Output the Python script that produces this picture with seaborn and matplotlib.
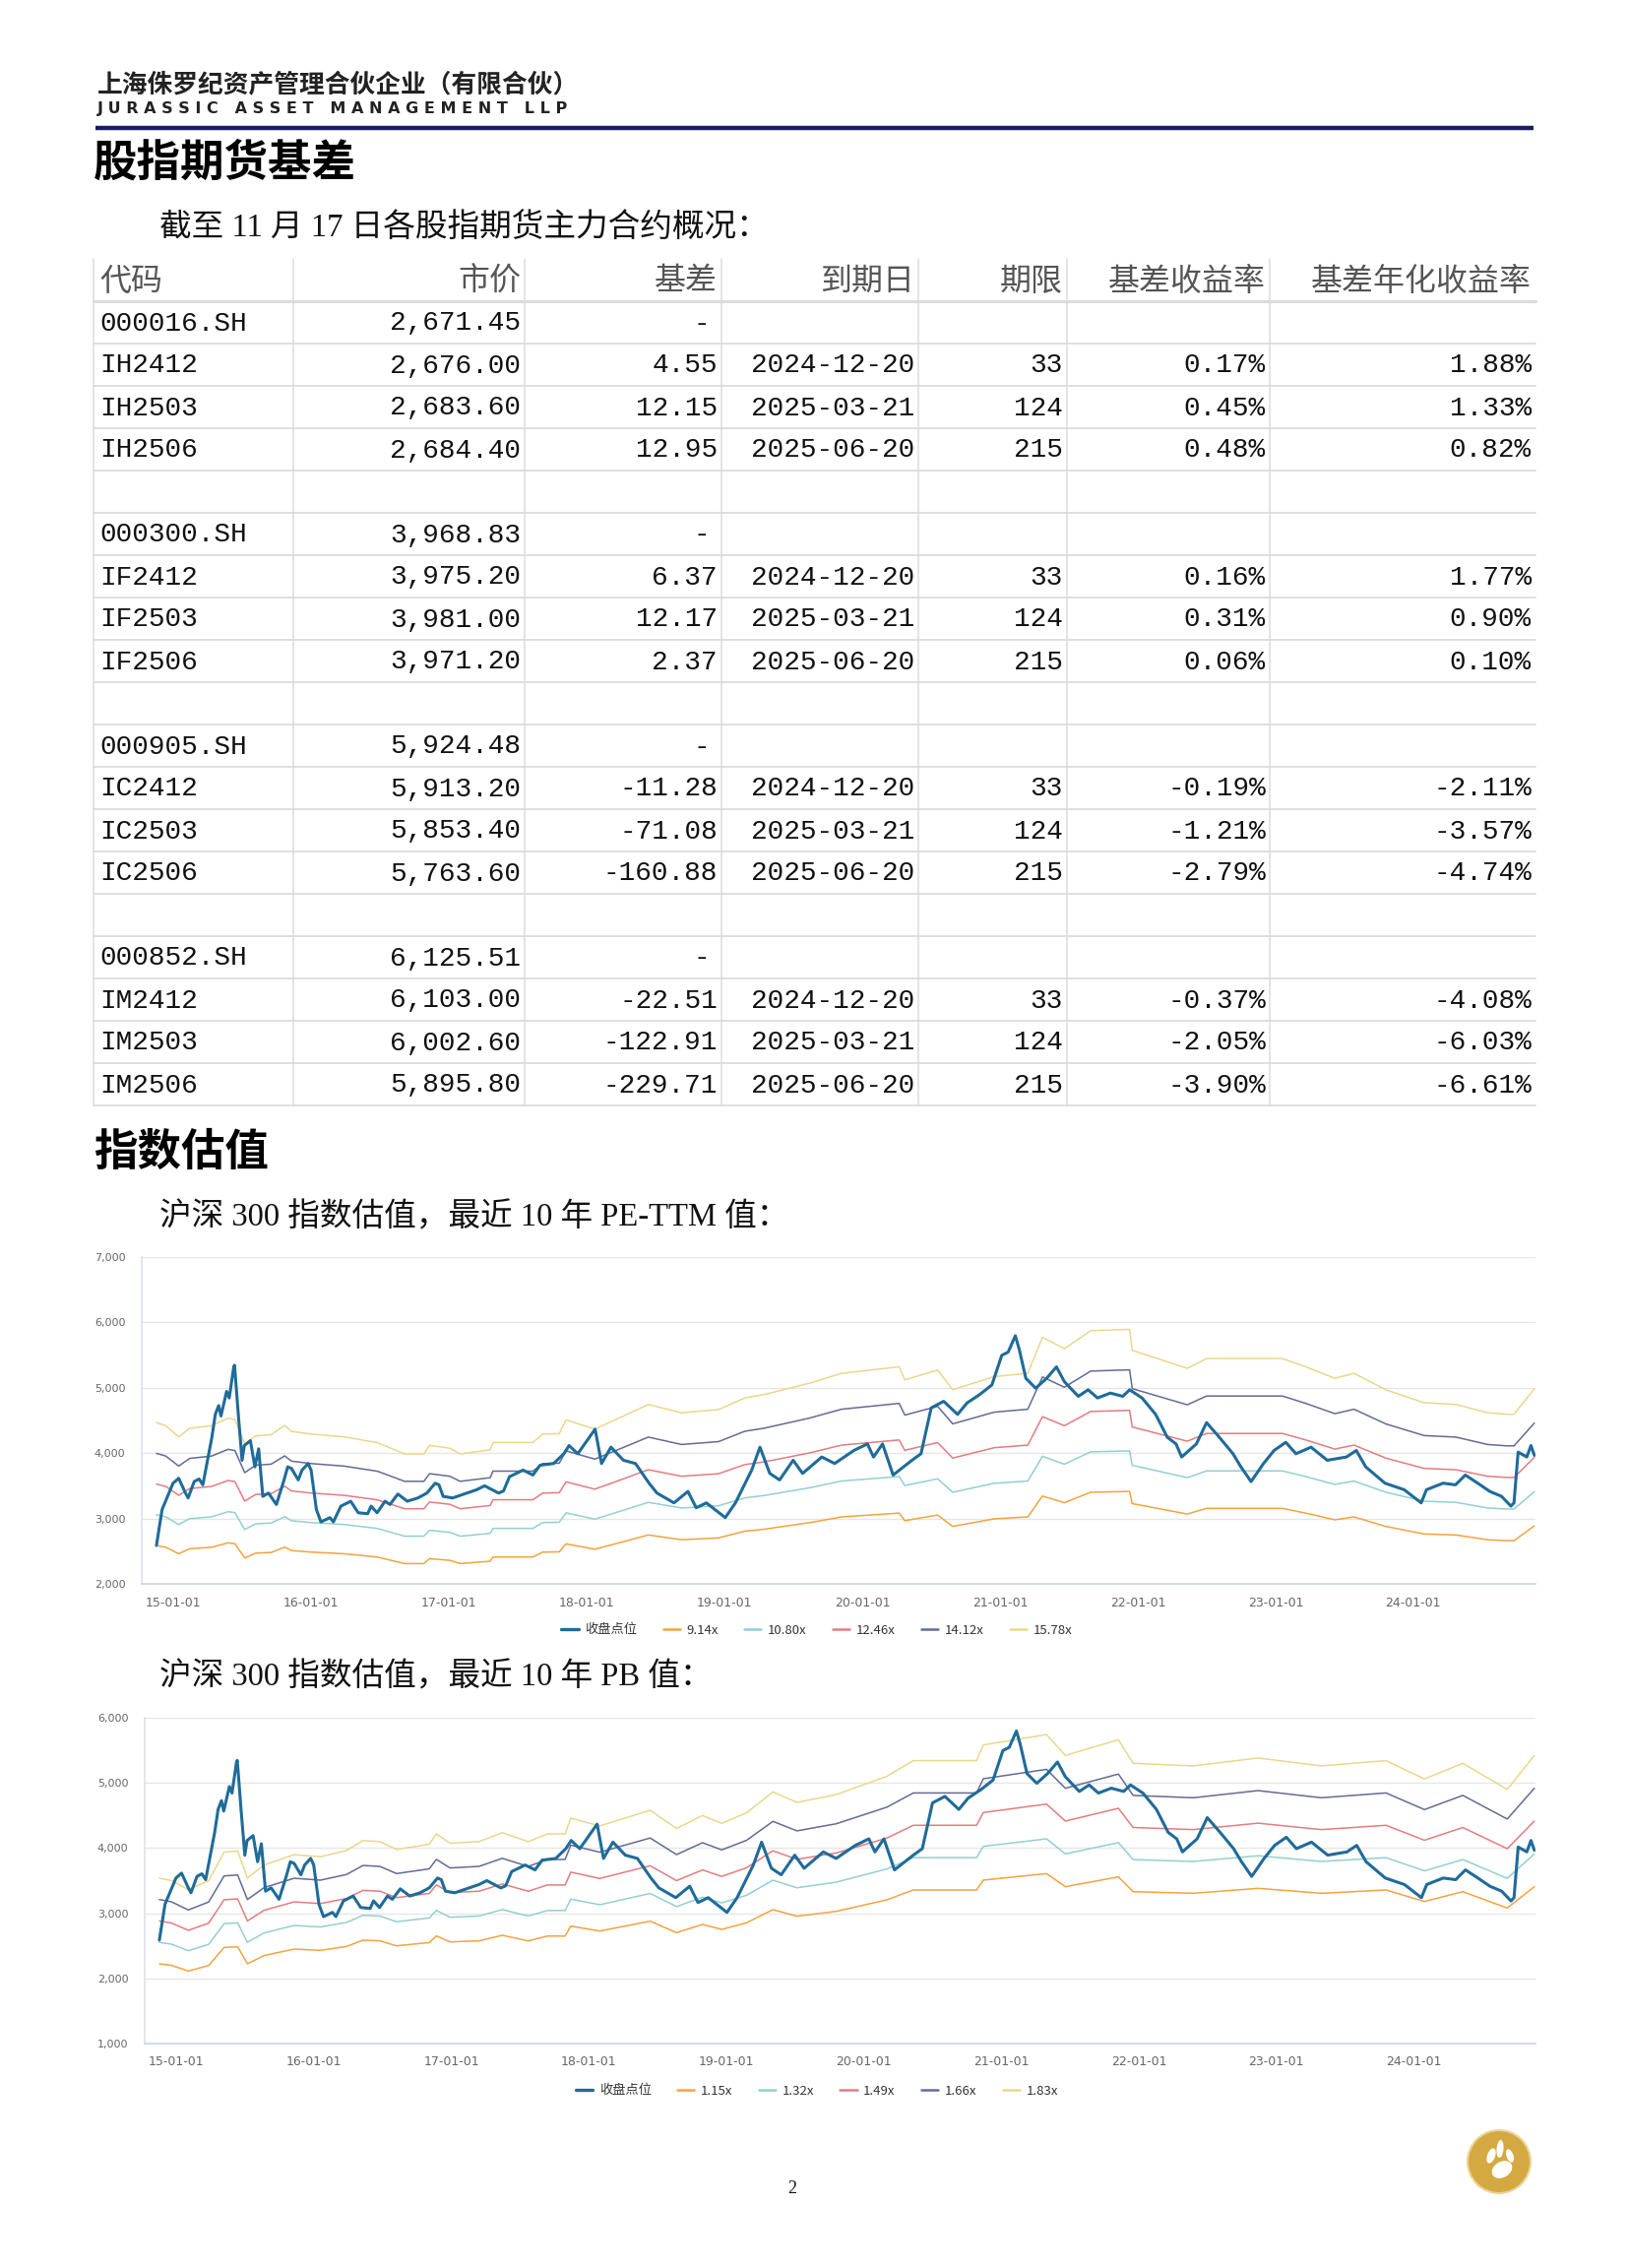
"""股指期货基差 + 沪深300估值页面"""
import numpy as np
import pandas as pd
import matplotlib
matplotlib.use("Agg")
import matplotlib.pyplot as plt
import matplotlib.dates as mdates
from matplotlib.lines import Line2D
from matplotlib.patches import Circle, Ellipse
import seaborn as sns

W, H = 1654, 2304

# ---- 表格数据 ----
table_header = ["代码", "市价", "基差", "到期日", "期限", "基差收益率", "基差年化收益率"]
codes = ["000016.SH", "IH2412", "IH2503", "IH2506", "",
         "000300.SH", "IF2412", "IF2503", "IF2506", "",
         "000905.SH", "IC2412", "IC2503", "IC2506", "",
         "000852.SH", "IM2412", "IM2503", "IM2506"]
prices = ["2,671.45", "2,676.00", "2,683.60", "2,684.40", "",
          "3,968.83", "3,975.20", "3,981.00", "3,971.20", "",
          "5,924.48", "5,913.20", "5,853.40", "5,763.60", "",
          "6,125.51", "6,103.00", "6,002.60", "5,895.80"]
basis = ["-", "4.55", "12.15", "12.95", "",
         "-", "6.37", "12.17", "2.37", "",
         "-", "-11.28", "-71.08", "-160.88", "",
         "-", "-22.51", "-122.91", "-229.71"]
expiry = ["", "2024-12-20", "2025-03-21", "2025-06-20", "",
          "", "2024-12-20", "2025-03-21", "2025-06-20", "",
          "", "2024-12-20", "2025-03-21", "2025-06-20", "",
          "", "2024-12-20", "2025-03-21", "2025-06-20"]
days = ["", "33", "124", "215", "",
        "", "33", "124", "215", "",
        "", "33", "124", "215", "",
        "", "33", "124", "215"]
basis_ret = ["", "0.17%", "0.45%", "0.48%", "",
             "", "0.16%", "0.31%", "0.06%", "",
             "", "-0.19%", "-1.21%", "-2.79%", "",
             "", "-0.37%", "-2.05%", "-3.90%"]
annual_ret = ["", "1.88%", "1.33%", "0.82%", "",
              "", "1.77%", "0.90%", "0.10%", "",
              "", "-2.11%", "-3.57%", "-4.74%", "",
              "", "-4.08%", "-6.03%", "-6.61%"]

# ---- 沪深300 收盘点位 ----
close_dates = [
    "2014-11-17", "2014-12-02", "2014-12-31", "2015-01-15", "2015-02-02", "2015-02-09",
    "2015-02-25", "2015-03-10", "2015-03-20", "2015-04-13", "2015-04-22", "2015-05-01",
    "2015-05-07", "2015-05-22", "2015-05-29", "2015-06-10", "2015-06-12", "2015-06-22",
    "2015-07-02", "2015-07-08", "2015-07-24", "2015-08-05", "2015-08-15", "2015-08-26",
    "2015-09-10", "2015-10-01", "2015-10-20", "2015-10-31", "2015-11-10", "2015-11-28",
    "2015-12-08", "2015-12-24", "2016-01-01", "2016-01-15", "2016-01-27", "2016-02-20",
    "2016-02-29", "2016-03-20", "2016-04-15", "2016-05-05", "2016-05-30", "2016-06-08",
    "2016-06-24", "2016-07-15", "2016-07-28", "2016-08-18", "2016-09-12", "2016-10-10",
    "2016-11-03", "2016-11-25", "2016-12-05", "2016-12-16", "2017-01-10", "2017-03-15",
    "2017-04-05", "2017-05-12", "2017-05-25", "2017-06-10", "2017-07-16", "2017-08-11",
    "2017-08-30", "2017-10-05", "2017-11-01", "2017-11-15", "2017-12-08", "2018-01-23",
    "2018-02-09", "2018-03-06", "2018-04-08", "2018-05-10", "2018-06-15", "2018-07-06",
    "2018-08-20", "2018-09-26", "2018-10-18", "2018-11-14", "2019-01-03", "2019-01-30",
    "2019-03-14", "2019-04-05", "2019-05-01", "2019-05-27", "2019-07-02", "2019-07-27",
    "2019-09-16", "2019-10-20", "2019-12-10", "2020-01-15", "2020-01-31", "2020-02-24",
    "2020-03-23", "2020-05-12", "2020-06-05", "2020-07-02", "2020-08-04", "2020-09-10",
    "2020-10-05", "2020-11-07", "2020-12-10", "2021-01-05", "2021-01-22", "2021-02-10",
    "2021-02-20", "2021-03-10", "2021-04-05", "2021-05-04", "2021-05-30", "2021-06-20",
    "2021-07-27", "2021-08-22", "2021-09-16", "2021-10-20", "2021-11-22", "2021-12-10",
    "2022-01-12", "2022-02-17", "2022-03-20", "2022-04-12", "2022-04-27", "2022-06-05",
    "2022-07-02", "2022-08-05", "2022-09-10", "2022-10-01", "2022-10-28", "2022-11-30",
    "2022-12-28", "2023-01-28", "2023-02-24", "2023-04-05", "2023-05-18", "2023-07-08",
    "2023-08-03", "2023-08-28", "2023-10-18", "2023-12-08", "2024-01-22", "2024-02-05",
    "2024-03-20", "2024-04-22", "2024-05-18", "2024-06-20", "2024-07-22", "2024-08-22",
    "2024-09-16", "2024-09-24", "2024-10-05", "2024-10-28", "2024-11-08", "2024-11-17"]
close_values = [
    2587, 3138, 3540, 3615, 3389, 3314,
    3565, 3605, 3515, 4243, 4593, 4728,
    4568, 4944, 4844, 5320, 5345, 4593,
    3890, 4116, 4191, 3790, 4066, 3339,
    3389, 3214, 3565, 3790, 3765, 3590,
    3740, 3841, 3740, 3138, 2948, 3013,
    2948, 3189, 3264, 3088, 3073, 3189,
    3088, 3264, 3214, 3374, 3264, 3314,
    3389, 3540, 3515, 3339, 3314, 3440,
    3500, 3389, 3420, 3640, 3740, 3665,
    3815, 3841, 3991, 4116, 3991, 4367,
    3841, 4091, 3891, 3841, 3540, 3389,
    3239, 3414, 3164, 3239, 3013, 3239,
    3740, 4091, 3690, 3590, 3891, 3690,
    3941, 3841, 4041, 4141, 3941, 4141,
    3665, 3891, 3991, 4693, 4793, 4593,
    4768, 4894, 5044, 5496, 5546, 5796,
    5596, 5144, 4994, 5144, 5320, 5094,
    4869, 4969, 4844, 4919, 4869, 4969,
    4844, 4593, 4242, 4141, 3941, 4141,
    4467, 4242, 3991, 3790, 3565, 3841,
    4041, 4166, 3991, 4091, 3891, 3941,
    4041, 3790, 3540, 3440, 3239, 3440,
    3540, 3515, 3665, 3540, 3414, 3339,
    3189, 3239, 4016, 3941, 4116, 3966]

# ---- PE-TTM 9.14x 线（其余倍数线按同一盈利基数等比） ----
pe_mults = [9.14, 10.80, 12.46, 14.12, 15.78]
pe_labels = ["9.14x", "10.80x", "12.46x", "14.12x", "15.78x"]
pe_dates = [
    "2014-11-17", "2014-12-12", "2015-01-15", "2015-02-13", "2015-04-12", "2015-05-26",
    "2015-06-13", "2015-07-09", "2015-08-07", "2015-09-17", "2015-10-23", "2015-11-10",
    "2016-01-01", "2016-03-28", "2016-06-25", "2016-09-05", "2016-10-26", "2016-11-10",
    "2017-01-03", "2017-01-30", "2017-04-20", "2017-04-27", "2017-08-11", "2017-09-06",
    "2017-10-20", "2017-11-07", "2018-01-22", "2018-03-21", "2018-06-13", "2018-09-09",
    "2018-12-16", "2019-02-24", "2019-04-16", "2019-08-15", "2019-11-07", "2020-04-08",
    "2020-04-23", "2020-07-19", "2020-08-28", "2020-12-16", "2021-03-15", "2021-04-23",
    "2021-06-20", "2021-08-29", "2021-12-10", "2021-12-17", "2022-05-12", "2022-07-02",
    "2023-01-19", "2023-03-22", "2023-06-07", "2023-07-28", "2023-10-20", "2024-01-30",
    "2024-04-23", "2024-07-16", "2024-09-06", "2024-09-24", "2024-11-17"]
pe_914 = [
    2587, 2560, 2461, 2537, 2560, 2627,
    2615, 2396, 2470, 2480, 2562, 2510,
    2486, 2461, 2410, 2310, 2310, 2386,
    2360, 2310, 2346, 2411, 2411, 2486,
    2490, 2612, 2530, 2618, 2748, 2675,
    2703, 2806, 2836, 2937, 3024, 3082,
    2966, 3053, 2879, 2995, 3024, 3344,
    3242, 3402, 3414, 3228, 3068, 3155,
    3155, 3082, 2980, 3024, 2879, 2763,
    2748, 2675, 2661, 2661, 2887]

# ---- PB 1.15x 线 ----
pb_mults = [1.15, 1.32, 1.49, 1.66, 1.83]
pb_labels = ["1.15x", "1.32x", "1.49x", "1.66x", "1.83x"]
pb_dates = [
    "2014-11-17", "2014-12-19", "2015-02-02", "2015-03-28", "2015-05-08", "2015-06-13",
    "2015-07-09", "2015-08-22", "2015-11-10", "2016-01-19", "2016-03-28", "2016-05-11",
    "2016-06-25", "2016-08-08", "2016-11-03", "2016-11-22", "2016-12-28", "2017-03-15",
    "2017-05-16", "2017-07-24", "2017-09-13", "2017-10-30", "2017-11-14", "2018-01-30",
    "2018-06-13", "2018-08-22", "2018-10-30", "2018-12-20", "2019-02-24", "2019-05-05",
    "2019-07-08", "2019-10-20", "2020-03-03", "2020-05-12", "2020-10-27", "2020-11-14",
    "2021-05-01", "2021-06-20", "2021-11-08", "2021-12-17", "2022-05-26", "2022-11-14",
    "2023-05-01", "2023-10-20", "2024-01-30", "2024-05-11", "2024-09-06", "2024-11-17"]
pb_115 = [
    2224, 2200, 2113, 2198, 2475, 2485,
    2224, 2350, 2450, 2430, 2490, 2586,
    2576, 2500, 2550, 2651, 2560, 2576,
    2662, 2576, 2650, 2650, 2802, 2727,
    2878, 2702, 2828, 2752, 2853, 3055,
    2954, 3029, 3206, 3357, 3357, 3508,
    3608, 3407, 3558, 3331, 3306, 3382,
    3306, 3357, 3180, 3331, 3080, 3407]

close_label = "收盘点位"
close_color = "#1f6b99"
band_colors = ["#f4a340", "#93d0cf", "#e47c80", "#646b95", "#ecd68c"]


def px(x, y):
    return x / W, 1 - y / H


def draw_valuation(ax, base_dates, base_values, mults, labels, ylim):
    frames = []
    for m, lab in zip(mults, labels):
        frames.append(pd.DataFrame({"date": pd.to_datetime(base_dates),
                                    "value": np.array(base_values, float) * m / mults[0],
                                    "series": lab}))
    bands = pd.concat(frames, ignore_index=True)
    sns.lineplot(data=bands, x="date", y="value", hue="series", hue_order=labels,
                 palette=dict(zip(labels, band_colors)), estimator=None, linewidth=1.1,
                 legend=False, ax=ax)
    close_df = pd.DataFrame({"date": pd.to_datetime(close_dates), "value": close_values})
    sns.lineplot(data=close_df, x="date", y="value", color=close_color, linewidth=2.2,
                 estimator=None, ax=ax)

    ax.set_xlim(pd.Timestamp("2014-10-09"), pd.Timestamp("2024-11-20"))
    ax.set_ylim(*ylim)
    ax.set_yticks(np.arange(ylim[0], ylim[1] + 1, 1000))
    ax.yaxis.set_major_formatter(matplotlib.ticker.FuncFormatter(lambda v, p: f"{v:,.0f}"))
    ax.xaxis.set_major_locator(mdates.YearLocator())
    ax.xaxis.set_major_formatter(mdates.DateFormatter("%y-%m-%d"))
    ax.set_xlabel("")
    ax.set_ylabel("")
    ax.grid(axis="y", color="#e6e6e6", linewidth=1)
    ax.grid(axis="x", visible=False)
    for s in ["top", "right"]:
        ax.spines[s].set_visible(False)
    ax.spines["left"].set_color("#dfe3ea")
    ax.spines["bottom"].set_color("#ccd6eb")
    ax.spines["bottom"].set_linewidth(1.3)
    ax.tick_params(axis="x", length=6, color="#ccd6eb", labelsize=9, labelcolor="#666666", pad=3)
    ax.tick_params(axis="y", length=0, labelsize=8, labelcolor="#666666", pad=12)
    ax.set_facecolor("white")
    for t in ax.get_xticklabels() + ax.get_yticklabels():
        t.set_fontfamily("DejaVu Sans")


def add_legend(ax, labels, y):
    handles = [Line2D([0], [0], color=close_color, lw=2.4)]
    handles += [Line2D([0], [0], color=c, lw=1.8) for c in band_colors]
    leg = ax.legend(handles, [close_label] + labels, loc="center", ncol=6, frameon=False,
                    bbox_to_anchor=px(830, y), bbox_transform=fig.transFigure,
                    fontsize=9.5, handlelength=1.3, handletextpad=0.5, columnspacing=2.0)
    for t in leg.get_texts():
        t.set_color("#333333")


sns.set_theme(style="white")
plt.rcParams["font.family"] = ["Noto Sans CJK SC", "DejaVu Sans"]
plt.rcParams["axes.unicode_minus"] = False

fig = plt.figure(figsize=(W / 100, H / 100), dpi=100)
fig.patch.set_facecolor("white")
page = fig.add_axes([0, 0, 1, 1])
page.set_xlim(0, W)
page.set_ylim(H, 0)
page.axis("off")

# 页眉
page.text(99, 87, "上海侏罗纪资产管理合伙企业（有限合伙）", fontsize=18.5, fontweight="bold",
          color="#222222", va="center", ha="left")
page.text(99, 111, "   ".join(" ".join(w) for w in "JURASSIC ASSET MANAGEMENT LLP".split()),
          fontsize=11.5, fontweight="bold", family="DejaVu Sans", color="#222222",
          va="center", ha="left")
page.plot([97, 1558], [130, 130], color="#1b1a66", lw=3.2, solid_capstyle="butt")

serif = ["Liberation Serif", "Noto Sans CJK SC"]
page.text(95, 166, "股指期货基差", fontsize=32, fontweight="bold", color="#000000",
          va="center", ha="left")
page.text(162, 232, "截至 11 月 17 日各股指期货主力合约概况：", fontsize=23.5, family=serif,
          color="#111111", va="center", ha="left")

# 表格
col_edges = [95, 298, 533, 733, 933, 1084, 1290, 1560]
tab_top, row_h = 263, 43
columns = [codes, prices, basis, expiry, days, basis_ret, annual_ret]
n_rows = len(codes) + 1
for i in range(1, n_rows + 1):
    yy = tab_top + i * row_h
    page.plot([95, 1560], [yy, yy], color="#dcdcdc", lw=2.2 if i == 1 else 1.3)
for xe in col_edges[:-1]:
    page.plot([xe, xe], [tab_top, tab_top + n_rows * row_h], color="#dcdcdc", lw=1.1)

mono = ["Liberation Mono", "Noto Sans CJK SC"]
for j, head in enumerate(table_header):
    yc = tab_top + row_h / 2 + 1
    if j == 0:
        page.text(col_edges[0] + 6, yc, head, fontsize=23, color="#555555", va="center", ha="left")
    else:
        page.text(col_edges[j + 1] - 4, yc, head, fontsize=23, color="#555555",
                  va="center", ha="right")
for j, col in enumerate(columns):
    for i, val in enumerate(col):
        if not val:
            continue
        yc = tab_top + (i + 1.5) * row_h + 1
        if j == 0:
            page.text(col_edges[0] + 6, yc, val, fontsize=20, family=mono, color="#111111",
                      va="center", ha="left")
        else:
            xr = col_edges[j + 1] - (12 if val == "-" else 4)
            page.text(xr, yc, val, fontsize=20, family=mono, color="#111111",
                      va="center", ha="right")

# 指数估值
page.text(95, 1171, "指数估值", fontsize=32, fontweight="bold", color="#000000",
          va="center", ha="left")
page.text(162, 1237, "沪深 300 指数估值，最近 10 年 PE-TTM 值：", fontsize=23.5, family=serif,
          color="#111111", va="center", ha="left")
page.text(162, 1704, "沪深 300 指数估值，最近 10 年 PB 值：", fontsize=23.5, family=serif,
          color="#111111", va="center", ha="left")

ax1 = fig.add_axes([144 / W, 1 - 1609 / H, (1560 - 144) / W, (1609 - 1277) / H])
draw_valuation(ax1, pe_dates, pe_914, pe_mults, pe_labels, (2000, 7000))
add_legend(ax1, pe_labels, 1656)

ax2 = fig.add_axes([147 / W, 1 - 2076 / H, (1560 - 147) / W, (2076 - 1745) / H])
draw_valuation(ax2, pb_dates, pb_115, pb_mults, pb_labels, (1000, 6000))
add_legend(ax2, pb_labels, 2124)

# 页码与标志
page.text(805, 2223, "2", fontsize=13, family="Liberation Serif", color="#111111",
          va="center", ha="center")
page.add_patch(Circle((1523, 2196), 32, facecolor="#d5a941", edgecolor="#ecd49a", lw=1.5))
page.add_patch(Ellipse((1526, 2204), 22, 16, angle=-30, facecolor="white", edgecolor="none"))
page.add_patch(Ellipse((1515, 2190), 8, 16, angle=20, facecolor="white", edgecolor="none"))
page.add_patch(Ellipse((1524, 2183), 7, 18, angle=5, facecolor="white", edgecolor="none"))
page.add_patch(Ellipse((1534, 2190), 7, 14, angle=-20, facecolor="white", edgecolor="none"))

fig.savefig("out.png", dpi=100, facecolor="white")
